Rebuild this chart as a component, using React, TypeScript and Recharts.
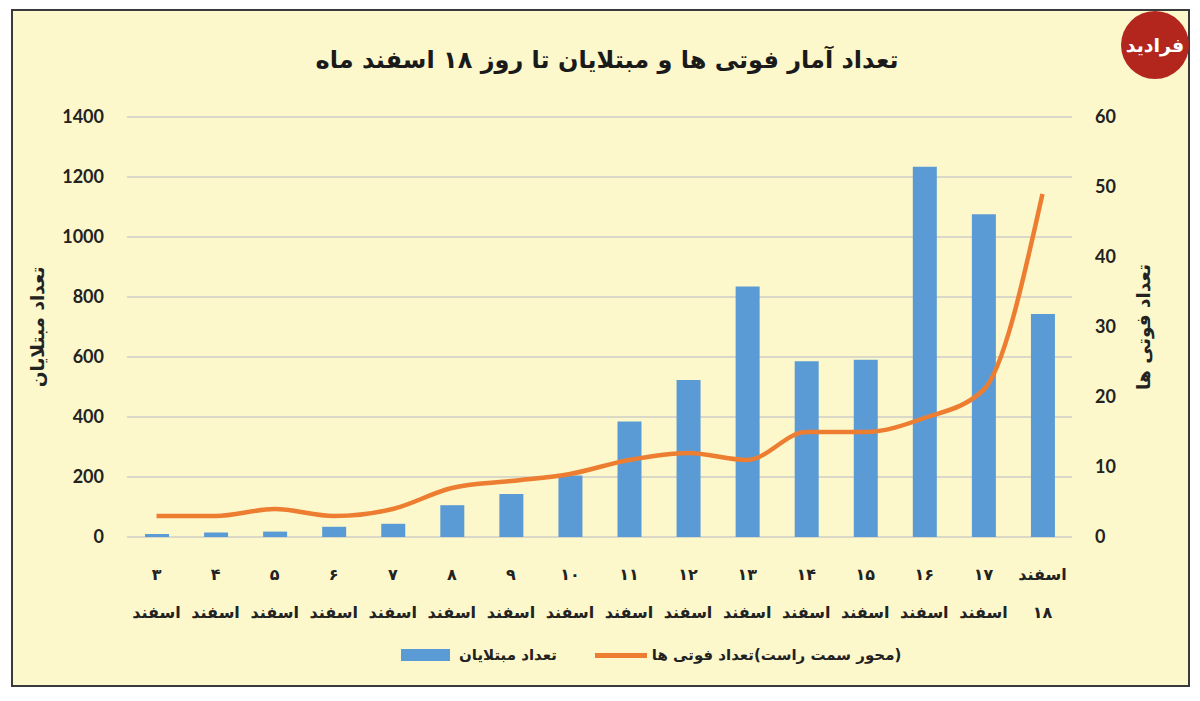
import { Bar, CartesianGrid, ComposedChart, Label, Line, XAxis, YAxis } from "recharts";

const categories = [
  "۳ اسفند", "۴ اسفند", "۵ اسفند", "۶ اسفند", "۷ اسفند", "۸ اسفند", "۹ اسفند", "۱۰ اسفند",
  "۱۱ اسفند", "۱۲ اسفند", "۱۳ اسفند", "۱۴ اسفند", "۱۵ اسفند", "۱۶ اسفند", "۱۷ اسفند", "اسفند ۱۸",
];
// تعداد مبتلایان (left axis)
const infected = [10, 15, 18, 34, 44, 106, 143, 205, 385, 523, 835, 586, 591, 1234, 1076, 743];
// تعداد فوتی ها (right axis)
const deaths = [3, 3, 4, 3, 4, 7, 8, 9, 11, 12, 11, 15, 15, 17, 21, 49];
const leftTicks = [0, 200, 400, 600, 800, 1000, 1200, 1400];
const rightTicks = [0, 10, 20, 30, 40, 50, 60];

const title = "تعداد آمار فوتی ها و مبتلایان تا روز ۱۸ اسفند ماه";
const leftTitle = "تعداد مبتلایان";
const rightTitle = "تعداد فوتی ها";
const barLegend = "تعداد مبتلایان";
const lineLegend = "(محور سمت راست)تعداد فوتی ها";

const FA = "'DejaVu Sans', sans-serif";
const NUM = "Lato, 'Open Sans', sans-serif";
const BLUE = "#5B9BD5";
const ORANGE = "#ED7D31";
const INK = "#222";

const data = categories.map((label, i) => ({ label, infected: infected[i], deaths: deaths[i] }));

function CategoryTick({ x, y, payload }: any) {
  const [top, bottom] = String(payload.value).split(" ");
  return (
    <g transform={`translate(${x},${y})`}>
      <text textAnchor="middle" fontFamily={FA} fontWeight={700} fontSize={16} fill={INK}>
        <tspan x={0} y={35}>{top}</tspan>
        <tspan x={0} y={73}>{bottom}</tspan>
      </text>
    </g>
  );
}

function axisTitle(text: string, dx: number) {
  return (props: any) => {
    const vb = props.viewBox || { x: 0, y: 117, width: 0, height: 420 };
    const cx = vb.x + dx;
    const cy = vb.y + vb.height / 2;
    return (
      <text
        x={cx}
        y={cy}
        transform={`rotate(-90 ${cx} ${cy})`}
        textAnchor="middle"
        dominantBaseline="central"
        fontFamily={FA}
        fontWeight={700}
        fontSize={18.5}
        fill={INK}
      >
        {text}
      </text>
    );
  };
}

export default function App() {
  const tickStyle = { fill: INK, fontSize: 18, fontWeight: 700, fontFamily: NUM };
  return (
    <div style={{ position: "absolute", left: 0, top: 0, width: 1200, height: 701, background: "#fff" }}>
      <div
        style={{
          position: "absolute",
          left: 11,
          top: 9,
          width: 1175,
          height: 674,
          border: "2px solid #3a3a3a",
          background: "#FCF8CB",
        }}
      />
      <div
        dir="rtl"
        style={{
          position: "absolute",
          top: 46,
          left: 0,
          width: 1214,
          textAlign: "center",
          fontFamily: FA,
          fontWeight: 700,
          fontSize: 24,
          color: "#1a1a1a",
        }}
      >
        {title}
      </div>
      <div
        style={{
          position: "absolute",
          left: 1121,
          top: 11,
          width: 68,
          height: 68,
          borderRadius: "50%",
          background: "#B3261E",
          color: "#fff",
          fontFamily: FA,
          fontWeight: 700,
          fontSize: 19,
          display: "flex",
          alignItems: "center",
          justifyContent: "center",
        }}
      >
        فرادید
      </div>
      <div style={{ position: "absolute", left: 0, top: 0 }}>
        <ComposedChart
          width={1200}
          height={701}
          data={data}
          margin={{ top: 117, right: 20, bottom: 94, left: 20 }}
        >
          <CartesianGrid yAxisId="left" vertical={false} stroke="#CFCEC4" strokeWidth={1.5} />
          <XAxis
            dataKey="label"
            interval={0}
            axisLine={false}
            tickLine={false}
            height={70}
            tick={<CategoryTick />}
          />
          <YAxis
            yAxisId="left"
            domain={[0, 1400]}
            ticks={leftTicks}
            width={107}
            axisLine={false}
            tickLine={false}
            tickMargin={17}
            tick={tickStyle}
          >
            <Label content={axisTitle(leftTitle, 17)} />
          </YAxis>
          <YAxis
            yAxisId="right"
            orientation="right"
            domain={[0, 60]}
            ticks={rightTicks}
            width={108}
            axisLine={false}
            tickLine={false}
            tickMargin={17}
            tick={tickStyle}
          >
            <Label content={axisTitle(rightTitle, 71)} />
          </YAxis>
          <Bar yAxisId="left" dataKey="infected" fill={BLUE} barSize={24} isAnimationActive={false} />
          <Line
            yAxisId="right"
            type="monotone"
            dataKey="deaths"
            stroke={ORANGE}
            strokeWidth={4.5}
            strokeLinejoin="round"
            dot={false}
            isAnimationActive={false}
          />
        </ComposedChart>
      </div>
      <div
        style={{
          position: "absolute",
          left: 401,
          top: 643,
          display: "flex",
          alignItems: "center",
          fontFamily: FA,
          fontWeight: 700,
          fontSize: 15,
          color: INK,
          height: 24,
        }}
      >
        <span style={{ width: 49, height: 12, background: BLUE, marginRight: 9 }} />
        <span dir="rtl">{barLegend}</span>
        <span style={{ width: 52, height: 5, background: ORANGE, marginLeft: 38, marginRight: 5 }} />
        <span dir="rtl">{lineLegend}</span>
      </div>
    </div>
  );
}
